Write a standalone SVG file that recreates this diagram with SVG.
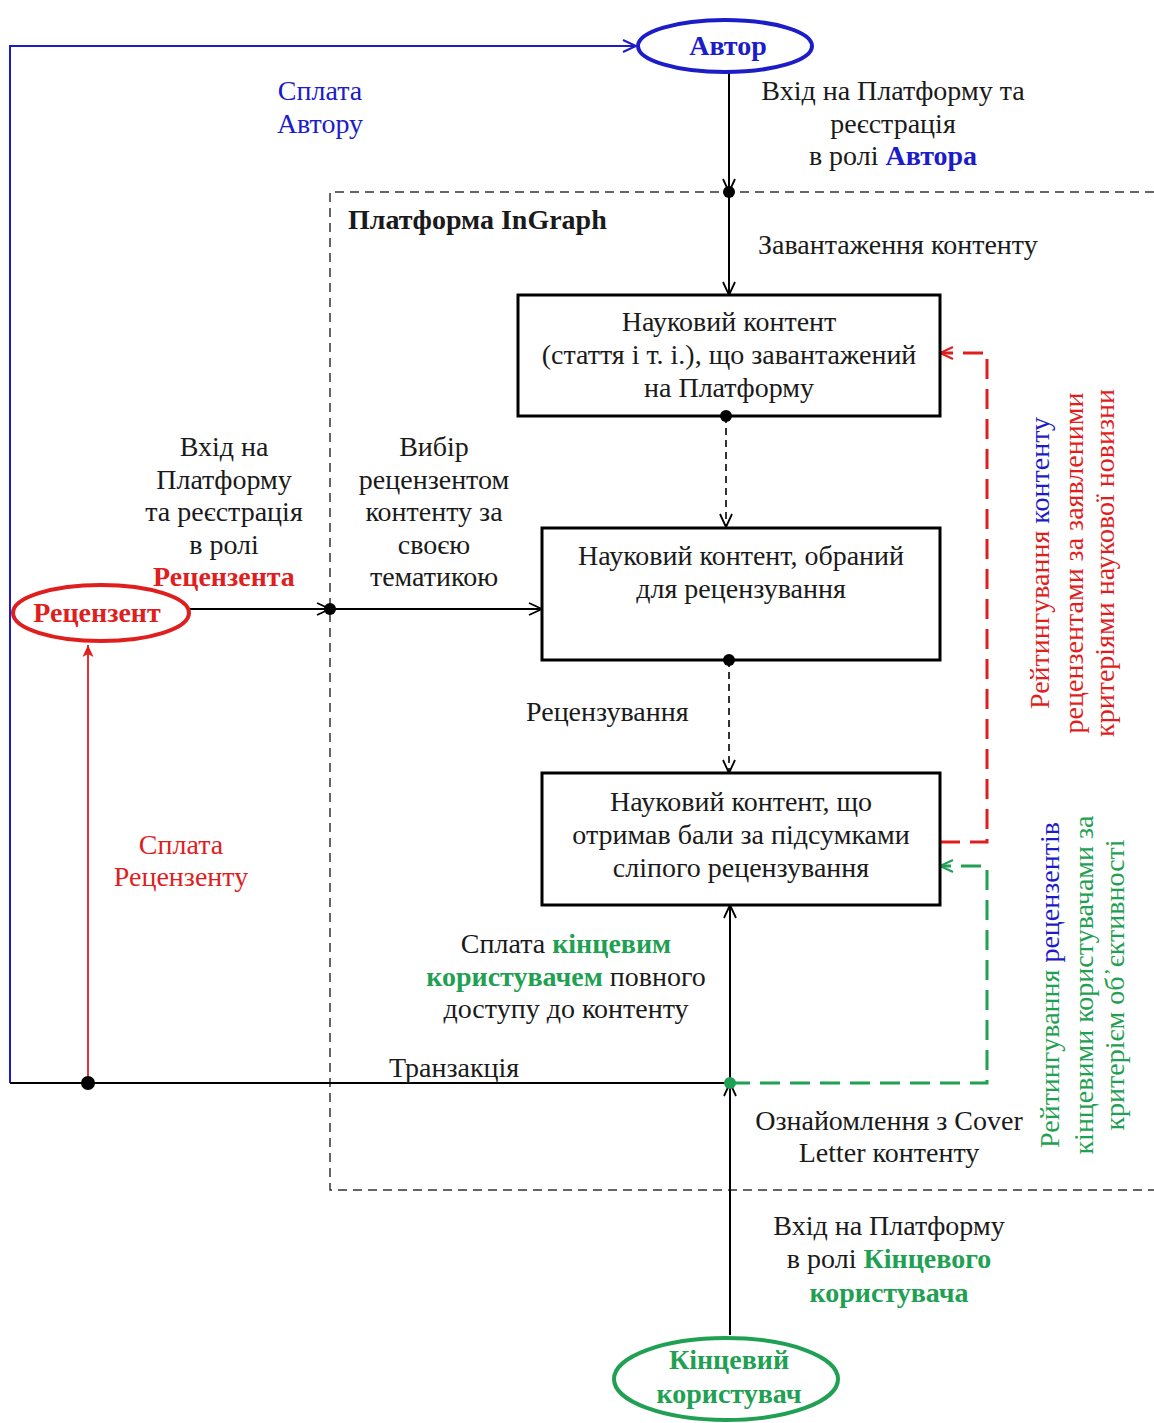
<svg xmlns="http://www.w3.org/2000/svg" width="1154" height="1423" viewBox="0 0 1154 1423">
  <defs>
    <style>
      text { font-family: "Liberation Serif", "Times New Roman", serif; font-size: 28px; fill: #1a1a1a; }
      .c { text-anchor: middle; }
      .b { font-weight: bold; }
      .blue { fill: #1c1cc8; }
      .red { fill: #e01e1e; }
      .green { fill: #1fa052; }
      .box { fill: #ffffff; stroke: #000; stroke-width: 3; }
      .ln { fill: none; stroke: #000; stroke-width: 2; }
      .dash { fill: none; stroke: #000; stroke-width: 1.6; stroke-dasharray: 7 5; }
      .frame { fill: none; stroke: #333; stroke-width: 1.5; stroke-dasharray: 9 6; }
    </style>
    <marker id="ah" markerUnits="userSpaceOnUse" markerWidth="18" markerHeight="18" refX="14" refY="7" orient="auto">
      <path d="M1,1 L14,7 L1,13" fill="none" stroke="#000" stroke-width="1.8"/>
    </marker>
    <marker id="ahBlue" markerUnits="userSpaceOnUse" markerWidth="18" markerHeight="18" refX="14" refY="7" orient="auto">
      <path d="M1,1 L14,7 L1,13" fill="none" stroke="#1c1cc8" stroke-width="2"/>
    </marker>
    <marker id="ahRed" markerUnits="userSpaceOnUse" markerWidth="18" markerHeight="18" refX="14" refY="7" orient="auto">
      <path d="M1,1 L14,7 L1,13" fill="none" stroke="#e01e1e" stroke-width="2"/>
    </marker>
    <marker id="ahGreen" markerUnits="userSpaceOnUse" markerWidth="18" markerHeight="18" refX="14" refY="7" orient="auto">
      <path d="M1,1 L14,7 L1,13" fill="none" stroke="#1fa052" stroke-width="2"/>
    </marker>
    <marker id="ahRedFill" markerUnits="userSpaceOnUse" markerWidth="16" markerHeight="16" refX="12" refY="6" orient="auto">
      <path d="M0,0.5 L12,6 L0,11.5 L3,6 Z" fill="#e01e1e"/>
    </marker>
  </defs>

  <rect width="1154" height="1423" fill="#ffffff"/>

  <!-- Platform boundary -->
  <g id="platform">
    <path class="frame" d="M1154,192 L330,192 L330,1190 L1154,1190"/>
    <text class="b" x="348" y="229">Платформа InGraph</text>
  </g>

  <!-- Connectors -->
  <g id="connectors">
    <!-- payment to author -->
    <path d="M10,1083 L10,46 L636,46" fill="none" stroke="#1c1cc8" stroke-width="2" marker-end="url(#ahBlue)"/>
    <!-- author registration -->
    <path class="ln" d="M729,72 L729,192" marker-end="url(#ah)"/>
    <path class="ln" d="M729,192 L729,295" marker-end="url(#ah)"/>
    <!-- content flow -->
    <path class="dash" d="M726,416 L726,527" marker-end="url(#ah)"/>
    <path class="dash" d="M729,660 L729,773" marker-end="url(#ah)"/>
    <!-- reviewer -->
    <path class="ln" d="M190,609 L330,609" marker-end="url(#ah)"/>
    <path class="ln" d="M330,609 L542,609" marker-end="url(#ah)"/>
    <!-- transaction -->
    <path class="ln" d="M10,1083 L730,1083"/>
    <path d="M88,1083 L88,645" fill="none" stroke="#e01e1e" stroke-width="1.8" marker-end="url(#ahRedFill)"/>
    <!-- end user -->
    <path class="ln" d="M730,1335 L730,1083" marker-end="url(#ah)"/>
    <path class="ln" d="M730,1083 L730,905" marker-end="url(#ah)"/>
    <!-- rating feedback loops -->
    <path d="M940,842 L987,842 L987,353 L940,353" fill="none" stroke="#e01e1e" stroke-width="3" stroke-dasharray="20 10" marker-end="url(#ahRed)"/>
    <path d="M730,1083 L987,1083 L987,866 L940,866" fill="none" stroke="#1fa052" stroke-width="3" stroke-dasharray="20 10" marker-end="url(#ahGreen)"/>
  </g>

  <!-- Actors -->
  <g id="author">
    <ellipse cx="725" cy="46" rx="87" ry="26" fill="#ffffff" stroke="#1c1cc8" stroke-width="4"/>
    <text class="c b blue" x="728" y="55">Автор</text>
  </g>
  <g id="reviewer">
    <ellipse cx="101" cy="613" rx="88" ry="28" fill="#ffffff" stroke="#e01e1e" stroke-width="4"/>
    <text class="c b red" x="97" y="622">Рецензент</text>
  </g>
  <g id="end-user">
    <ellipse cx="726" cy="1379" rx="112" ry="41" fill="#ffffff" stroke="#1fa052" stroke-width="4"/>
    <text class="c b green" x="729" y="1369">Кінцевий</text>
    <text class="c b green" x="729" y="1403">користувач</text>
  </g>

  <!-- Content states -->
  <g id="content-uploaded">
    <rect class="box" x="518" y="295" width="422" height="121"/>
    <text class="c" x="729" y="331">Науковий контент</text>
    <text class="c" x="729" y="364">(стаття і т. і.), що завантажений</text>
    <text class="c" x="729" y="397">на Платформу</text>
  </g>
  <g id="content-selected">
    <rect class="box" x="542" y="528" width="398" height="132"/>
    <text class="c" x="741" y="565">Науковий контент, обраний</text>
    <text class="c" x="741" y="598">для рецензування</text>
  </g>
  <g id="content-scored">
    <rect class="box" x="542" y="773" width="398" height="132"/>
    <text class="c" x="741" y="811">Науковий контент, що</text>
    <text class="c" x="741" y="844">отримав бали за підсумками</text>
    <text class="c" x="741" y="877">сліпого рецензування</text>
  </g>

  <!-- Junction points -->
  <g id="junctions">
    <circle cx="729" cy="192" r="6" fill="#000"/>
    <circle cx="726" cy="416" r="6" fill="#000"/>
    <circle cx="729" cy="660" r="6" fill="#000"/>
    <circle cx="330" cy="609" r="6" fill="#000"/>
    <circle cx="88" cy="1083" r="7" fill="#000"/>
    <circle cx="730" cy="1083" r="6" fill="#1fa052"/>
  </g>

  <!-- Connector labels -->
  <g id="labels">
    <text class="c blue" x="320" y="100">Сплата</text>
    <text class="c blue" x="320" y="133">Автору</text>

    <text class="c" x="893" y="100">Вхід на Платформу та</text>
    <text class="c" x="893" y="133">реєстрація</text>
    <text class="c" x="893" y="165">в ролі <tspan class="b blue">Автора</tspan></text>

    <text x="758" y="254">Завантаження контенту</text>

    <text class="c" x="224" y="456">Вхід на</text>
    <text class="c" x="224" y="489">Платформу</text>
    <text class="c" x="224" y="521">та реєстрація</text>
    <text class="c" x="224" y="554">в ролі</text>
    <text class="c b red" x="224" y="586">Рецензента</text>

    <text class="c" x="434" y="456">Вибір</text>
    <text class="c" x="434" y="489">рецензентом</text>
    <text class="c" x="434" y="521">контенту за</text>
    <text class="c" x="434" y="554">своєю</text>
    <text class="c" x="434" y="586">тематикою</text>

    <text x="526" y="721">Рецензування</text>

    <text class="c red" x="181" y="854">Сплата</text>
    <text class="c red" x="181" y="886">Рецензенту</text>

    <text class="c" x="566" y="953">Сплата <tspan class="b green">кінцевим</tspan></text>
    <text class="c" x="566" y="986"><tspan class="b green">користувачем</tspan> повного</text>
    <text class="c" x="566" y="1018">доступу до контенту</text>

    <text x="389" y="1077">Транзакція</text>

    <text class="c" x="889" y="1130">Ознайомлення з Cover</text>
    <text class="c" x="889" y="1162">Letter контенту</text>

    <text class="c" x="889" y="1235">Вхід на Платформу</text>
    <text class="c" x="889" y="1268">в ролі <tspan class="b green">Кінцевого</tspan></text>
    <text class="c b green" x="889" y="1302">користувача</text>

    <!-- vertical rating labels -->
    <g transform="translate(1049,563) rotate(-90)">
      <text class="c red" x="0" y="0">Рейтингування <tspan class="blue">контенту</tspan></text>
      <text class="c red" x="0" y="34">рецензентами за заявленими</text>
      <text class="c red" x="0" y="65">критеріями наукової новизни</text>
    </g>
    <g transform="translate(1059,985) rotate(-90)">
      <text class="c green" x="0" y="0">Рейтингування <tspan class="blue">рецензентів</tspan></text>
      <text class="c green" x="0" y="34">кінцевими користувачами за</text>
      <text class="c green" x="0" y="65">критерієм об᾿єктивності</text>
    </g>
  </g>
</svg>
